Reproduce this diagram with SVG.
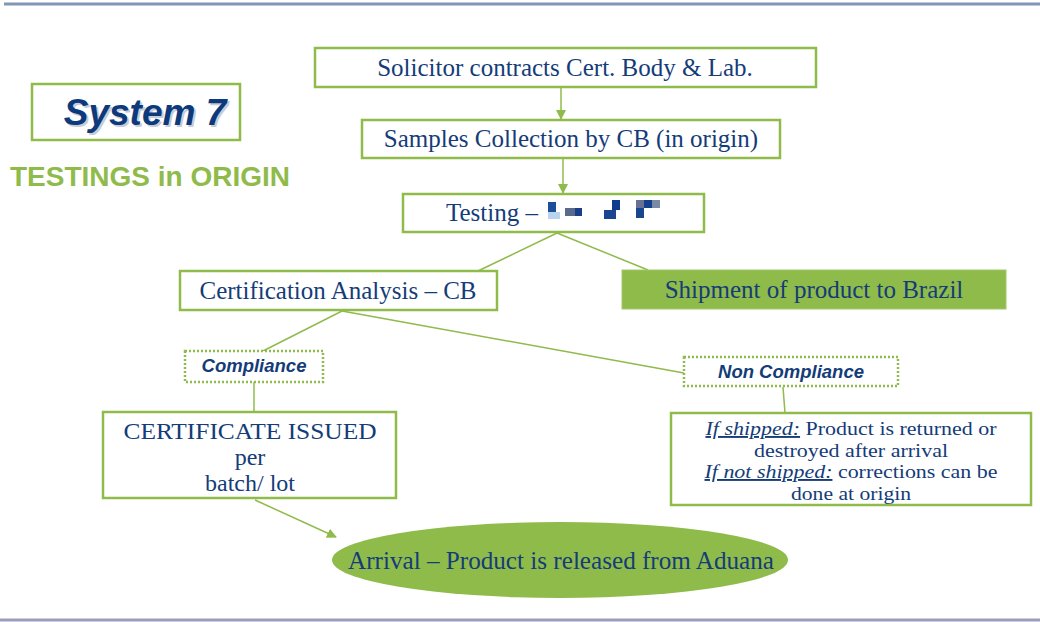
<svg xmlns="http://www.w3.org/2000/svg" width="1040" height="622" viewBox="0 0 1040 622">
<defs>
<marker id="arr" markerWidth="10" markerHeight="10" refX="9" refY="5" orient="auto" markerUnits="userSpaceOnUse">
<path d="M0,0 L10,5 L0,10 Z" fill="#8fbb4b"/>
</marker>
<style>
.box{fill:#fff;stroke:#8fbb4b;stroke-width:2.5}
.dot{fill:#fff;stroke:#8fbb4b;stroke-width:2.5;stroke-dasharray:2 2}
.fillbox{fill:#8fbb4b;stroke:#a3c86a;stroke-width:1}
.t{font-family:"Liberation Serif","Times New Roman",serif;font-size:25px;fill:#143c78;text-anchor:middle}
.ts{font-family:"Liberation Serif","Times New Roman",serif;font-size:25px;fill:#143c78;text-anchor:start}
.m{font-family:"Liberation Serif","Times New Roman",serif;font-size:24px;fill:#143c78;text-anchor:middle}
.s{font-family:"Liberation Serif","Times New Roman",serif;font-size:19px;fill:#143c78;text-anchor:middle}
.lbl{font-family:"Liberation Sans",Arial,sans-serif;font-size:18.5px;font-weight:bold;font-style:italic;fill:#143c78;text-anchor:middle}
.c{stroke:#8fbb4b;stroke-width:1.5;fill:none}
</style>
</defs>
<rect width="1040" height="622" fill="#fff"/>
<line x1="4" y1="4" x2="1040" y2="4" stroke="#8098b6" stroke-width="3"/>
<line x1="0" y1="620" x2="1040" y2="620" stroke="#9a9cc0" stroke-width="3"/>

<g id="title">
<rect class="box" x="32" y="84" width="208" height="56"/>
<text x="147" y="127" font-family="Liberation Sans,Arial,sans-serif" font-size="37" font-weight="bold" font-style="italic" fill="#c9ccd6" text-anchor="middle">System 7</text>
<text x="145" y="125" font-family="Liberation Sans,Arial,sans-serif" font-size="37" font-weight="bold" font-style="italic" fill="#0c3a7c" text-anchor="middle">System 7</text>
</g>
<g id="subtitle">
<text x="10" y="186" font-family="Liberation Sans,Arial,sans-serif" font-size="28" font-weight="bold" fill="#8fbb4b">TESTINGS in ORIGIN</text>
</g>

<g id="connectors">
<line class="c" x1="561" y1="87" x2="561" y2="119" marker-end="url(#arr)"/>
<line class="c" x1="563" y1="158" x2="563" y2="193" marker-end="url(#arr)"/>
<line class="c" x1="557" y1="233" x2="478" y2="271"/>
<line class="c" x1="557" y1="233" x2="648" y2="270"/>
<line class="c" x1="342" y1="311" x2="263" y2="351"/>
<line class="c" x1="342" y1="311" x2="684" y2="373"/>
<line class="c" x1="254" y1="382" x2="254" y2="412"/>
<line class="c" x1="783" y1="387" x2="785" y2="413"/>
<line class="c" x1="255" y1="500" x2="336" y2="537" marker-end="url(#arr)"/>
</g>

<g id="n1">
<rect class="box" x="315" y="48" width="501" height="39"/>
<text class="t" x="565" y="76">Solicitor contracts Cert. Body &amp; Lab.</text>
</g>
<g id="n2">
<rect class="box" x="362" y="120" width="418" height="38"/>
<text class="t" x="571" y="147">Samples Collection by CB (in origin)</text>
</g>
<g id="n3">
<rect class="box" x="403" y="194" width="301" height="38"/>
<text class="ts" x="446" y="221">Testing –</text>
<g id="redacted">
<rect x="548" y="202" width="8" height="10" fill="#1f4e99"/>
<rect x="548" y="212" width="12" height="7" fill="#b8d4ee"/>
<rect x="565" y="208" width="10" height="8" fill="#5a6a8a"/>
<rect x="575" y="208" width="7" height="8" fill="#1a3f8a"/>
<rect x="604" y="210" width="12" height="9" fill="#1a4590"/>
<rect x="612" y="200" width="8" height="10" fill="#0f3c8c"/>
<rect x="636" y="200" width="8" height="8" fill="#6a6f94"/>
<rect x="644" y="200" width="8" height="8" fill="#14408e"/>
<rect x="652" y="200" width="8" height="8" fill="#7a8aa6"/>
<rect x="636" y="208" width="8" height="10" fill="#1a4590"/>
</g>
</g>
<g id="n4">
<rect class="box" x="180" y="271" width="317" height="39"/>
<text class="t" x="338" y="299">Certification Analysis – CB</text>
</g>
<g id="n5">
<rect class="fillbox" x="622" y="270" width="384" height="39"/>
<text class="t" x="814" y="298">Shipment of product to Brazil</text>
</g>
<g id="n6">
<rect class="dot" x="185" y="351" width="138" height="31"/>
<text class="lbl" x="254" y="372">Compliance</text>
</g>
<g id="n7">
<rect class="dot" x="684" y="357" width="214" height="29"/>
<text class="lbl" x="791" y="378">Non Compliance</text>
</g>
<g id="n8">
<rect class="box" x="103" y="412" width="293" height="86"/>
<text class="m" x="250" y="439" textLength="253" lengthAdjust="spacingAndGlyphs">CERTIFICATE ISSUED</text>
<text class="m" x="250" y="465">per</text>
<text class="m" x="250" y="491">batch/ lot</text>
</g>
<g id="n9">
<rect class="box" x="671" y="413" width="360" height="92"/>
<text class="s" x="851" y="435" textLength="291" lengthAdjust="spacingAndGlyphs"><tspan font-style="italic" text-decoration="underline">If shipped:</tspan> Product is returned or</text>
<text class="s" x="851" y="456.5" textLength="194" lengthAdjust="spacingAndGlyphs">destroyed after arrival</text>
<text class="s" x="851" y="478" textLength="293" lengthAdjust="spacingAndGlyphs"><tspan font-style="italic" text-decoration="underline">If not shipped:</tspan> corrections can be</text>
<text class="s" x="851" y="499.5" textLength="120" lengthAdjust="spacingAndGlyphs">done at origin</text>
</g>
<g id="n10">
<ellipse cx="560" cy="560" rx="228" ry="38" fill="#8fbb4b"/>
<text class="t" x="561" y="569" font-size="26" textLength="426" lengthAdjust="spacingAndGlyphs">Arrival – Product is released from Aduana</text>
</g>
</svg>
